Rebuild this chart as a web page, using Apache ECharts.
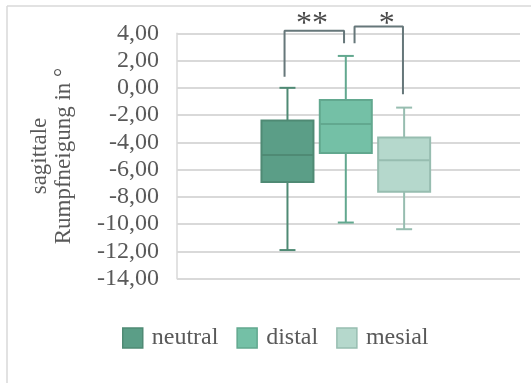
<!DOCTYPE html>
<html>
<head>
<meta charset="utf-8">
<script src="https://cdn.jsdelivr.net/npm/echarts@6/dist/echarts.min.js"></script>
<style>html,body{margin:0;padding:0;background:#fff}#c{width:531px;height:383px}</style>
</head>
<body>
<div id="c"></div>
<script>
// Data
var categories = ['neutral', 'distal', 'mesial'];
// [min, Q1, median, Q3, max]
var neutralBox = [-11.9, -6.9, -4.92, -2.4, 0.0];
var distalBox = [-9.88, -4.78, -2.65, -0.89, 2.34];
var mesialBox = [-10.37, -7.63, -5.31, -3.65, -1.45];
var yTicks = [-14, -12, -10, -8, -6, -4, -2, 0, 2, 4];
// significance brackets, [x (category index), y]
var bracket1 = [[-0.05, 0.82], [-0.05, 4.19], [0.97, 4.19], [0.97, 3.27]];
var bracket2 = [[1.15, 3.27], [1.15, 4.49], [1.98, 4.49], [1.98, -0.47]];
var sigLabels = [[0.42, 5.2, '**'], [1.70, 5.2, '*']];

var fills = ['#5b9e87', '#74c0a6', '#b5d8cc'];
var borders = ['#4f8a74', '#62a88f', '#97bdb0'];
var font = '"Liberation Serif", "Times New Roman", serif';
var boxes = [neutralBox, distalBox, mesialBox];

var chart = echarts.init(document.getElementById('c'), null, {renderer: 'canvas'});

function renderBox(params, api) {
  var x = api.value(0);
  var pMin = api.coord([x, api.value(1)]);
  var pQ1 = api.coord([x, api.value(2)]);
  var pMed = api.coord([x, api.value(3)]);
  var pQ3 = api.coord([x, api.value(4)]);
  var pMax = api.coord([x, api.value(5)]);
  var cx = pMed[0];
  var bw = 52, cw = 16;
  var st = api.style();
  var stroke = st.stroke;
  var ls = {stroke: stroke, lineWidth: 2};
  return {
    type: 'group',
    children: [
      {type: 'line', shape: {x1: cx, y1: pMax[1], x2: cx, y2: pQ3[1]}, style: ls},
      {type: 'line', shape: {x1: cx, y1: pQ1[1], x2: cx, y2: pMin[1]}, style: ls},
      {type: 'line', shape: {x1: cx - cw / 2, y1: pMax[1], x2: cx + cw / 2, y2: pMax[1]}, style: ls},
      {type: 'line', shape: {x1: cx - cw / 2, y1: pMin[1], x2: cx + cw / 2, y2: pMin[1]}, style: ls},
      {type: 'rect', shape: {x: cx - bw / 2, y: pQ3[1], width: bw, height: pQ1[1] - pQ3[1]},
        style: {fill: st.fill, stroke: stroke, lineWidth: 2}},
      {type: 'line', shape: {x1: cx - bw / 2, y1: pMed[1], x2: cx + bw / 2, y2: pMed[1]}, style: ls}
    ]
  };
}

var series = categories.map(function (name, i) {
  return {
    name: name, type: 'custom', xAxisIndex: 1, yAxisIndex: 1,
    renderItem: renderBox,
    encode: {x: 0, y: [1, 2, 3, 4, 5]},
    data: [[i].concat(boxes[i])],
    itemStyle: {color: fills[i], borderColor: borders[i], borderWidth: 2},
    silent: true
  };
});
[bracket1, bracket2].forEach(function (b) {
  series.push({
    type: 'line', xAxisIndex: 2, yAxisIndex: 1, data: b, clip: false,
    symbol: 'none', silent: true,
    lineStyle: {color: '#66777a', width: 2}
  });
});
series.push({
  type: 'scatter', xAxisIndex: 2, yAxisIndex: 1, clip: false, silent: true,
  symbolSize: 0,
  data: sigLabels.map(function (s) { return {value: [s[0], s[1]], name: s[2]}; }),
  label: {show: true, position: 'inside', formatter: '{b}', fontFamily: font, fontSize: 32, color: '#1a1a1a', offset: [0, 8]}
});

chart.setOption({
  animation: false,
  graphic: [
    {type: 'line', shape: {x1: 7, y1: 6, x2: 531, y2: 6}, style: {stroke: '#d9d9d9', lineWidth: 1.5}},
    {type: 'line', shape: {x1: 7, y1: 6, x2: 7, y2: 383}, style: {stroke: '#d9d9d9', lineWidth: 1.5}}
  ],
  grid: [
    {left: 177, right: 11, top: 33.3, bottom: 104.3},
    {left: 258.3, right: 97.7, top: 33.3, bottom: 104.3}
  ],
  legend: {
    data: categories.map(function (c, i) {
      return {name: c, icon: 'rect', itemStyle: {color: fills[i], borderColor: borders[i], borderWidth: 1.5}};
    }),
    left: 122, top: 326, padding: 0, itemWidth: 20, itemHeight: 20, itemGap: 18,
    textStyle: {fontFamily: font, fontSize: 24, color: '#595959', padding: [0, 0, 0, 4]},
    selectedMode: false
  },
  xAxis: [
    {type: 'category', gridIndex: 0, data: [''], show: false},
    {type: 'category', gridIndex: 1, data: categories, show: false},
    {type: 'value', gridIndex: 1, min: -0.5, max: 2.5, show: false}
  ],
  yAxis: [
    {
      type: 'value', gridIndex: 0, min: yTicks[0], max: yTicks[yTicks.length - 1], interval: 2,
      name: 'sagittale\nRumpfneigung in °', nameLocation: 'middle', nameRotate: 90, nameGap: 101,
      nameTextStyle: {fontFamily: font, fontSize: 23, color: '#595959', lineHeight: 24},
      axisLine: {show: true, lineStyle: {color: '#d9d9d9', width: 1.5}},
      axisTick: {show: false},
      axisLabel: {
        fontFamily: font, fontSize: 24, color: '#595959', margin: 18,
        formatter: function (v) { return v.toFixed(2).replace('.', ','); }
      },
      splitLine: {lineStyle: {color: '#d9d9d9', width: 2}}
    },
    {type: 'value', gridIndex: 1, min: -14, max: 4, interval: 2, show: false}
  ],
  series: series
});
</script>
</body>
</html>
